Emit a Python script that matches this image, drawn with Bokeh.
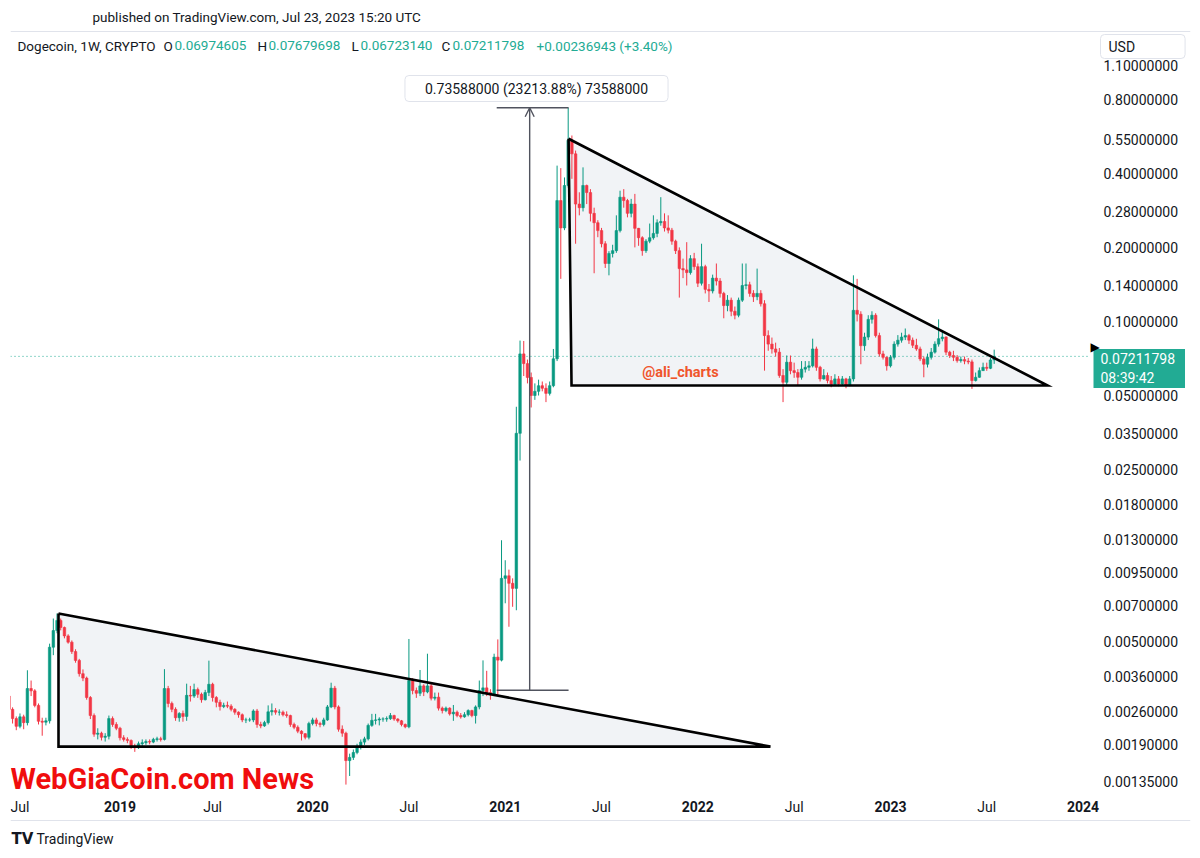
from bokeh.plotting import figure
from bokeh.models import (Range1d, FixedTicker, PrintfTickFormatter, Label, LabelSet,
                          ColumnDataSource, Span, Arrow, OpenHead)
from bokeh.core.properties import value
from bokeh.embed import file_html
from bokeh.resources import INLINE

# ---------------- data (weekly DOGE/USD, bar 1 = week of 2018-06-11) ----------------
first_open = 0.00300
close = [
    .00265, .00243, .00226, .00247, .00234, .00322, .00315, .00275, .00237, .00235,
    .00238, .00474, .00554, .00609, .00570, .00527, .00497, .00455, .00419, .00370,
    .00355, .00296, .00250, .00210, .00212, .00204, .00206, .00243, .00230, .00222,
    .00203, .00200, .00198, .00188, .00185, .00192, .00194, .00196, .00195, .00200,
    .00201, .00200, .00322, .00280, .00265, .00245, .00255, .00248, .00302, .00300,
    .00319, .00305, .00290, .00310, .00335, .00296, .00283, .00272, .00275, .00273,
    .00265, .00258, .00252, .00240, .00240, .00240, .00261, .00230, .00227, .00234,
    .00259, .00262, .00258, .00258, .00252, .00250, .00230, .00224, .00216, .00211,
    .00204, .00232, .00240, .00232, .00230, .00240, .00271, .00323, .00271, .00220,
    .00212, .00164, .00169, .00177, .00186, .00195, .00201, .00228, .00239, .00240,
    .00242, .00242, .00243, .00250, .00242, .00238, .00230, .00225, .00347, .00316,
    .00308, .00330, .00312, .00330, .00294, .00297, .00268, .00262, .00268, .00254,
    .00258, .00250, .00247, .00252, .00262, .00250, .00271, .00316, .00324, .00310,
    .00303, .00432, .00420, .00903, .00925, .00862, .00822, .0351, .0738, .0674,
    .0592, .0500, .0520, .0548, .0535, .0510, .0548, .0705, .310, .240,
    .357, .545, .480, .300, .290, .357, .334, .275, .252, .234,
    .207, .172, .189, .194, .234, .320, .310, .275, .300, .239,
    .219, .194, .212, .219, .228, .252, .255, .240, .235, .212,
    .194, .164, .162, .158, .180, .167, .143, .167, .135, .133,
    .150, .146, .130, .116, .122, .110, .106, .122, .140, .141,
    .130, .126, .130, .118, .0876, .0809, .0773, .0750, .0603, .0566,
    .0683, .0631, .0620, .0593, .0640, .0651, .0660, .0773, .0651, .0584,
    .0603, .0575, .0556, .0584, .0557, .0584, .0549, .0584, .111, .107,
    .0797, .0864, .102, .106, .0876, .0738, .0715, .0660, .0715, .0809,
    .0839, .0864, .0876, .0839, .0800, .0773, .0704, .0670, .0715, .0750,
    .0809, .0851, .0864, .0750, .0727, .0715, .0693, .0700, .0690, .0685,
    .0575, .0593, .0631, .0651, .0645, .06974605, .07211798,
]
high = [
    .00305, .00270, .00248, .00255, .00252, .00382, .00347, .00320, .00280, .00245,
    .00245, .00490, .00620, .00650, .00620, .00575, .00535, .00505, .00465, .00425,
    .00385, .00360, .00300, .00255, .00222, .00215, .00212, .00250, .00248, .00235,
    .00225, .00208, .00204, .00200, .00192, .00196, .00200, .00200, .00200, .00203,
    .00205, .00205, .00386, .00330, .00285, .00270, .00258, .00262, .00337, .00330,
    .00337, .00325, .00310, .00318, .00418, .00340, .00300, .00290, .00282, .00285,
    .00278, .00268, .00260, .00255, .00245, .00245, .00265, .00266, .00236, .00238,
    .00275, .00280, .00268, .00265, .00262, .00260, .00252, .00234, .00228, .00218,
    .00212, .00236, .00245, .00245, .00236, .00245, .00276, .00340, .00330, .00275,
    .00228, .00215, .00175, .00182, .00192, .00200, .00205, .00232, .00254, .00254,
    .00246, .00246, .00248, .00256, .00252, .00244, .00240, .00232, .00512, .00355,
    .00325, .00383, .00335, .00446, .00336, .00310, .00310, .00272, .00272, .00270,
    .00276, .00262, .00256, .00258, .00265, .00264, .00275, .00347, .00419, .00380,
    .00320, .00446, .00510, .01290, .01070, .00980, .00903, .0450, .0836, .0833,
    .0700, .0620, .0560, .0580, .0570, .0560, .0570, .0773, .430, .420,
    .385, .739, .570, .495, .335, .423, .360, .345, .290, .258,
    .240, .212, .193, .205, .270, .340, .345, .315, .315, .330,
    .240, .222, .216, .250, .270, .260, .320, .275, .270, .240,
    .215, .200, .180, .210, .186, .190, .172, .207, .170, .142,
    .155, .172, .150, .132, .128, .125, .115, .125, .172, .172,
    .145, .134, .164, .134, .122, .0920, .0860, .0820, .0780, .0640,
    .0727, .0727, .0680, .0640, .0690, .0690, .0690, .0851, .0790, .0660,
    .0640, .0620, .0600, .0610, .0600, .0600, .0590, .0600, .154, .149,
    .110, .0900, .106, .110, .108, .0900, .0760, .0720, .0730, .0830,
    .0880, .0900, .0936, .0890, .0860, .0850, .0790, .0720, .0740, .0780,
    .0830, .102, .0920, .0870, .0760, .0760, .0730, .0720, .0720, .0710,
    .0700, .0620, .0650, .0680, .0680, .0710, .07679698,
]
low = [
    .00258, .00232, .00218, .00222, .00220, .00228, .00300, .00270, .00230, .00207,
    .00228, .00232, .00440, .00540, .00555, .00515, .00490, .00445, .00410, .00360,
    .00345, .00290, .00242, .00205, .00200, .00198, .00196, .00200, .00225, .00218,
    .00198, .00196, .00193, .00183, .00178, .00183, .00188, .00190, .00191, .00193,
    .00196, .00196, .00198, .00270, .00258, .00238, .00236, .00236, .00238, .00285,
    .00295, .00295, .00282, .00288, .00300, .00285, .00270, .00262, .00268, .00268,
    .00260, .00252, .00245, .00235, .00233, .00236, .00235, .00223, .00222, .00225,
    .00230, .00250, .00252, .00250, .00248, .00245, .00225, .00220, .00212, .00198,
    .00200, .00200, .00228, .00226, .00224, .00226, .00238, .00268, .00265, .00215,
    .00205, .00131, .00142, .00165, .00174, .00182, .00190, .00198, .00225, .00230,
    .00228, .00236, .00236, .00240, .00238, .00234, .00226, .00222, .00222, .00305,
    .00295, .00300, .00300, .00308, .00288, .00288, .00262, .00255, .00258, .00250,
    .00238, .00246, .00243, .00245, .00248, .00246, .00232, .00265, .00300, .00300,
    .00290, .00300, .00300, .00415, .00715, .00574, .00692, .00670, .0272, .0600,
    .0560, .0447, .0480, .0500, .0520, .0470, .0500, .0540, .0690, .149,
    .235, .350, .380, .207, .270, .280, .300, .255, .157, .220,
    .200, .165, .154, .182, .190, .230, .290, .265, .265, .200,
    .203, .185, .190, .208, .215, .220, .245, .232, .228, .205,
    .188, .125, .150, .140, .155, .162, .138, .140, .130, .120,
    .130, .140, .125, .103, .110, .105, .102, .104, .120, .135,
    .126, .120, .122, .115, .0631, .0760, .0740, .0720, .0590, .0470,
    .0550, .0610, .0590, .0549, .0580, .0620, .0630, .0650, .0630, .0570,
    .0580, .0560, .0540, .0550, .0545, .0550, .0535, .0545, .0570, .100,
    .0670, .0760, .0840, .0980, .0860, .0720, .0700, .0631, .0650, .0700,
    .0790, .0820, .0840, .0810, .0780, .0760, .0690, .0593, .0650, .0700,
    .0740, .0790, .0830, .0730, .0710, .0690, .0680, .0680, .0670, .0670,
    .0532, .0570, .0590, .0630, .0630, .0640, .0672314,
]

year_tick_index = [31, 83, 135, 187, 239, 291]
year_tick_labels = ["2019", "2020", "2021", "2022", "2023", "2024"]
jul_tick_index = [4, 56, 109, 161, 213, 265]
jul_tick_labels = ["Jul", "Jul", "Jul", "Jul", "Jul", "Jul"]

price_ticks = [1.1, 0.8, 0.55, 0.4, 0.28, 0.2, 0.14, 0.1, 0.05, 0.035, 0.025,
               0.018, 0.013, 0.0095, 0.007, 0.005, 0.0036, 0.0026, 0.0019, 0.00135]

# drawings on the chart (bar index, price)
upper_triangle_x = [152.1, 152.9, 281.4]
upper_triangle_y = [0.553, 0.0549, 0.0549]
lower_triangle_x = [14.4, 14.4, 206.6]
lower_triangle_y = [0.0065, 0.00187, 0.00187]
measure_x = [132.7, 141.6, 152.1]          # left, arrow, right
measure_y = [0.00317, 0.73905]              # from, to
measure_text = "0.73588000 (23213.88%) 73588000"

# visible bar window and where the price scale begins (bar units)
bar_window = (1.44, 320.0)
price_scale_start = 293.0
price_window = (0.000707, 1.523)

UP = "#089981"
DOWN = "#f23645"
TEXT = "#131722"
GREEN = "#22ab94"
FONT = "Roboto"

# ---------------- build ----------------
n = len(close)
bar_x = list(range(1, n + 1))
opens = [first_open] + close[:-1]
tops = [max(o, c) for o, c in zip(opens, close)]
bottoms = [min(o, c) for o, c in zip(opens, close)]
colors = [UP if c >= o else DOWN for o, c in zip(opens, close)]
src = ColumnDataSource(dict(x=bar_x, open=opens, close=close, high=high, low=low,
                            top=tops, bottom=bottoms, color=colors))

# frame: page x 10..1190, page y 30..850
p = figure(width=1200, height=858, y_axis_type="log", y_axis_location="right",
           x_range=Range1d(*bar_window), y_range=Range1d(*price_window),
           output_backend="svg", toolbar_location=None,
           min_border_left=10, min_border_top=30, min_border_bottom=8, min_border_right=10)
p.outline_line_color = None
p.grid.visible = False
p.background_fill_color = "white"
p.border_fill_color = "white"

# header as the plot title
p.title.text = "published on TradingView.com, Jul 23, 2023 15:20 UTC"
p.title.align = "left"
p.title.offset = 82
p.title.standoff = 11
p.title.text_font = FONT
p.title.text_font_style = "normal"
p.title.text_font_size = "13.5px"
p.title.text_color = TEXT


def scr(text, X, Y, color=TEXT, size="13.5px", style="normal", font=FONT, align="left", **kw):
    """Label placed by page pixel position (frame origin: left 10, bottom 850)."""
    lab = Label(x=X - 10, y=850 - Y, x_units="screen", y_units="screen", text=text,
                text_align=align, text_baseline="middle", text_font=font,
                text_font_size=size, text_font_style=style, text_color=color, **kw)
    p.add_layout(lab)
    return lab


# pane borders
p.add_layout(Span(location=819, location_units="screen", dimension="width",
                  line_color="#e0e3eb", line_width=1))
p.add_layout(Span(location=30, location_units="screen", dimension="width",
                  line_color="#e0e3eb", line_width=1))

# triangle fills (behind candles)
p.patch(upper_triangle_x, upper_triangle_y, fill_color="#eef0f4", fill_alpha=0.8, line_color=None)
p.patch(lower_triangle_x, lower_triangle_y, fill_color="#eef0f4", fill_alpha=0.8, line_color=None)

# current price line (stops at the price scale)
p.segment(x0=[bar_window[0]], y0=[close[-1]], x1=[price_scale_start], y1=[close[-1]],
          line_color=GREEN, line_dash="1 3", line_width=1)

# candles
p.segment(x0="x", y0="high", x1="x", y1="low", line_color="color", line_width=1, source=src)
p.vbar(x="x", width=0.68, top="top", bottom="bottom", fill_color="color",
       line_color="color", line_width=0.6, source=src)

# triangle outlines
p.line(upper_triangle_x + upper_triangle_x[:1], upper_triangle_y + upper_triangle_y[:1],
       line_color="black", line_width=2.6, line_join="miter")
p.line(lower_triangle_x + lower_triangle_x[:1], lower_triangle_y + lower_triangle_y[:1],
       line_color="black", line_width=2.6, line_join="miter")

# measure tool
MC = "#50535e"
p.segment(x0=[measure_x[0], measure_x[0]], y0=[measure_y[0], measure_y[1]],
          x1=[measure_x[2], measure_x[2]], y1=[measure_y[0], measure_y[1]],
          line_color=MC, line_width=1.4)
p.add_layout(Arrow(end=OpenHead(size=9, line_color=MC, line_width=1.4),
                   x_start=measure_x[1], y_start=measure_y[0],
                   x_end=measure_x[1], y_end=measure_y[1],
                   line_color=MC, line_width=1.4))
scr(measure_text, 536, 88, size="14px", align="center", background_fill_color="white",
    border_line_color="#e0e3eb", border_line_width=1, border_radius=4,
    padding=dict(left=20, right=20, top=5, bottom=5))

# @ali_charts
p.add_layout(Label(x=182.3, y=0.062, text="@ali_charts", text_align="center",
                   text_baseline="middle", text_font=FONT, text_font_style="bold",
                   text_font_size="14.5px", text_color="#f0552b"))

# ---------------- axes ----------------
ya = p.yaxis[0]
ya.ticker = FixedTicker(ticks=price_ticks)
ya.formatter = PrintfTickFormatter(format="%.8f")
ya.axis_line_color = None
ya.major_tick_line_color = None
ya.minor_tick_line_color = None
ya.major_tick_out = 0
ya.major_tick_in = 0
ya.major_label_standoff = -87          # labels drawn back into the price-scale strip
ya.major_label_text_font = FONT
ya.major_label_text_font_size = "14px"
ya.major_label_text_color = TEXT

xa = p.xaxis[0]
xa.ticker = FixedTicker(ticks=year_tick_index)
xa.major_label_overrides = {t: s for t, s in zip(year_tick_index, year_tick_labels)}
xa.axis_line_color = None
xa.major_tick_line_color = None
xa.minor_tick_line_color = None
xa.major_tick_out = 0
xa.major_tick_in = 0
xa.major_label_standoff = -50          # labels drawn back into the time-scale strip
xa.major_label_text_font = FONT
xa.major_label_text_font_style = "bold"
xa.major_label_text_font_size = "14px"
xa.major_label_text_color = TEXT

jul_src = ColumnDataSource(dict(x=jul_tick_index, text=jul_tick_labels))
p.add_layout(LabelSet(x="x", y=44, y_units="screen", text="text", source=jul_src,
                      text_align="center", text_baseline="middle", text_font=value(FONT),
                      text_font_size=value("14px"), text_color=TEXT))

# ---------------- overlay texts ----------------
scr("Dogecoin, 1W, CRYPTO", 17, 45)
scr("O", 163, 45)
scr("0.06974605", 174, 45, color=GREEN)
scr("H", 257, 45)
scr("0.07679698", 268, 45, color=GREEN)
scr("L", 351, 45)
scr("0.06723140", 360, 45, color=GREEN)
scr("C", 441, 45)
scr("0.07211798", 452, 45, color=GREEN)
scr("+0.00236943 (+3.40%)", 536, 45, color=GREEN)

scr("USD", 1100, 46, size="14px", background_fill_color="white", border_line_color="#e0e3eb",
    border_radius=4, padding=dict(left=8, right=50, top=4, bottom=4))
scr("0.07211798\n08:39:42", 1093, 368, color="white", size="14px",
    background_fill_color=GREEN, padding=dict(left=7, right=10, top=2, bottom=2))
scr("\u25B6", 1090, 346, color="black", size="12px", font="DejaVu Sans")

scr("TV", 11, 838, size="15px", style="bold", font="DejaVu Sans")
scr("TradingView", 36, 838, size="14px")

# watermark
scr("WebGiaCoin.com News", 10, 778, color="#f00d0d", size="29px", style="bold")

open("out.html", "w").write(file_html(p, INLINE))
